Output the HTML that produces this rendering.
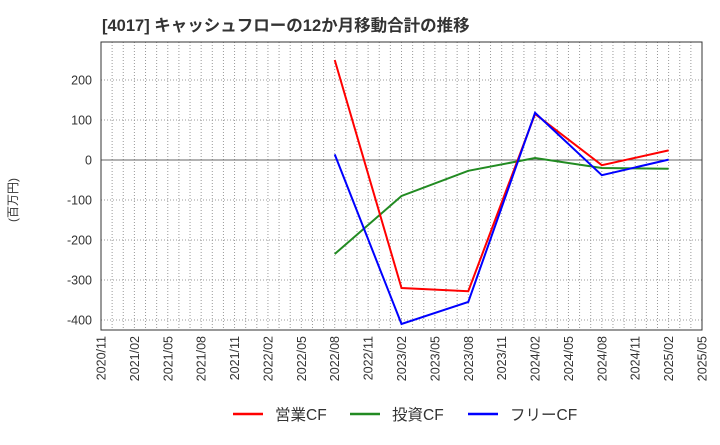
<!DOCTYPE html>
<html><head><meta charset="utf-8"><style>
body{margin:0;background:#fff;font-family:"Liberation Sans","Noto Sans CJK JP",sans-serif}
</style></head><body>
<svg id="c" width="720" height="440" xmlns="http://www.w3.org/2000/svg" font-family="Liberation Sans, Noto Sans CJK JP, sans-serif">
<text x="102" y="31" font-size="16.5" font-weight="bold" fill="#333">[4017]  キャッシュフローの12か月移動合計の推移</text>
<text transform="translate(17,200) rotate(-90)" text-anchor="middle" font-size="12" fill="#333">(百万円)</text>
<g id="grid"></g><g id="series"></g><g id="axes"></g>
</svg>
<script>
const xTicks=["2020/11","2021/02","2021/05","2021/08","2021/11","2022/02","2022/05","2022/08","2022/11","2023/02","2023/05","2023/08","2023/11","2024/02","2024/05","2024/08","2024/11","2025/02","2025/05"];
const yTicks=[200,100,0,-100,-200,-300,-400];
const pointIdx=[7,9,11,13,15,17];
const opCF=[250,-320,-328,115,-13,24];
const invCF=[-235,-90,-27,5,-20,-22];
const freeCF=[14,-410,-355,118,-38,1];
const L=101,R=702,T=42,B=330;
const NS="http://www.w3.org/2000/svg";
const xs=i=>L+(R-L)*i/18;
const ys=v=>160-v*0.4;
function mk(t,a,p){const e=document.createElementNS(NS,t);for(const k in a)e.setAttribute(k,a[k]);p.appendChild(e);return e;}
const g=document.getElementById('grid'),s=document.getElementById('series'),ax=document.getElementById('axes');
for(let m=1;m<54;m++){const x=L+(R-L)*m/54;
const ln=mk('line',{x1:x,x2:x,y1:T,y2:B,stroke:'#999','stroke-dasharray':'1,2','stroke-width':1},g);

}
yTicks.forEach(v=>{const y=ys(v);
const ln=mk('line',{x1:L,x2:R,y1:y,y2:y,stroke:v===0?'#666':'#999','stroke-dasharray':v===0?'':'1,2','stroke-width':1},g);


const t=mk('text',{x:L-9,y:y+4.5,'text-anchor':'end','font-size':12.5,fill:'#333'},ax);t.textContent=v;

});
xTicks.forEach((lab,i)=>{const x=xs(i);
const t=mk('text',{transform:`translate(${x+4.5},${B+6}) rotate(-90)`,'text-anchor':'end','font-size':12.5,fill:'#333'},ax);t.textContent=lab;

});
const fr=mk('rect',{x:L,y:T,width:R-L,height:B-T,fill:'none',stroke:'#333','stroke-width':1},ax);


[[invCF,'#228B22','investing-cf-line'],[opCF,'#ff0000','operating-cf-line'],[freeCF,'#0000ff','free-cf-line']].forEach(([d,c,n])=>{
const p=mk('polyline',{points:d.map((v,i)=>xs(pointIdx[i])+','+ys(v)).join(' '),fill:'none',stroke:c,'stroke-width':2},s);

});
const leg=[['営業CF','#ff0000',233],['投資CF','#228B22',350],['フリーCF','#0000ff',468]];
leg.forEach(([lab,c,x])=>{const gg=mk('g',{},ax);


mk('line',{x1:x,x2:x+30,y1:414,y2:414,stroke:c,'stroke-width':2.5},gg);
const t=mk('text',{x:x+42,y:420,'font-size':15.5,fill:'#333'},gg);t.textContent=lab;});
</script>
</body></html>
